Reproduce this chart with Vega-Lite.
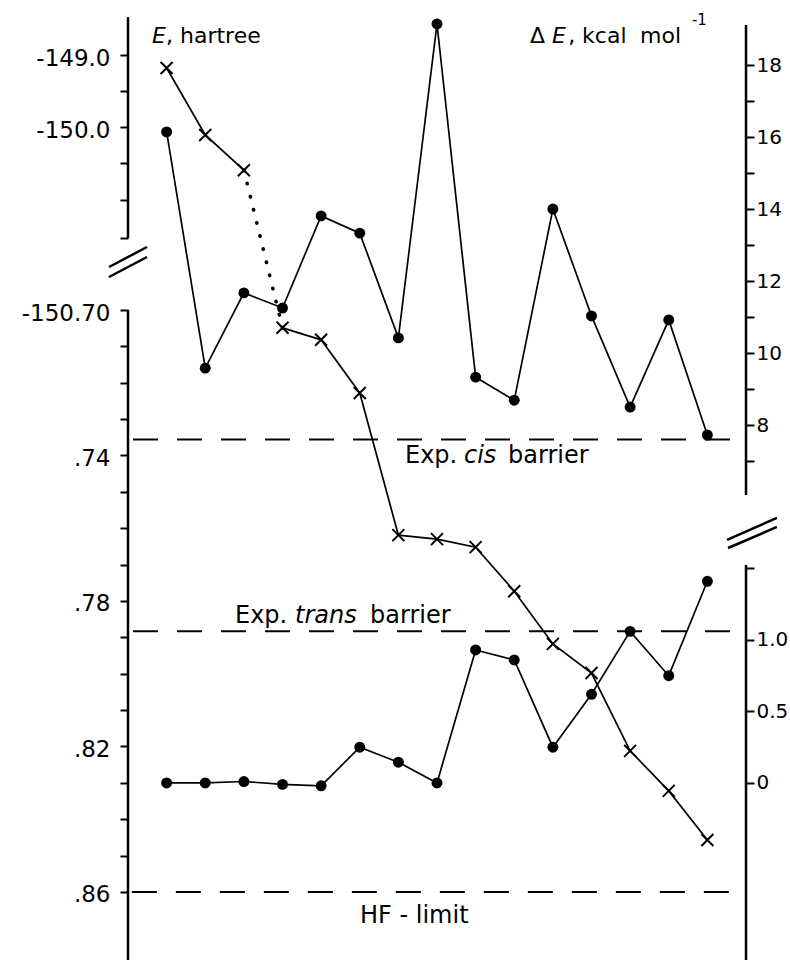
{
  "$schema": "https://vega.github.io/schema/vega-lite/v6.json",
  "width": 618,
  "height": 960,
  "autosize": {"type": "none"},
  "padding": {"left": 128, "top": 0, "right": 44, "bottom": 0},
  "background": "white",
  "config": {"view": {"stroke": null}},
  "datasets": {
    "energy": [
      {"n": 1, "E": -149.18}, {"n": 2, "E": -150.11}, {"n": 3, "E": -150.60},
      {"n": 4, "E": -150.7049}, {"n": 5, "E": -150.7082}, {"n": 6, "E": -150.7228},
      {"n": 7, "E": -150.7619}, {"n": 8, "E": -150.7630}, {"n": 9, "E": -150.7652},
      {"n": 10, "E": -150.7773}, {"n": 11, "E": -150.7918}, {"n": 12, "E": -150.7998},
      {"n": 13, "E": -150.8212}, {"n": 14, "E": -150.8322}, {"n": 15, "E": -150.8457}
    ],
    "barrier": [
      {"n": 1, "dE": 16.14, "barrier": "cis"}, {"n": 2, "dE": 9.58, "barrier": "cis"},
      {"n": 3, "dE": 11.67, "barrier": "cis"}, {"n": 4, "dE": 11.25, "barrier": "cis"},
      {"n": 5, "dE": 13.81, "barrier": "cis"}, {"n": 6, "dE": 13.33, "barrier": "cis"},
      {"n": 7, "dE": 10.42, "barrier": "cis"}, {"n": 8, "dE": 19.14, "barrier": "cis"},
      {"n": 9, "dE": 9.33, "barrier": "cis"}, {"n": 10, "dE": 8.69, "barrier": "cis"},
      {"n": 11, "dE": 14.0, "barrier": "cis"}, {"n": 12, "dE": 11.03, "barrier": "cis"},
      {"n": 13, "dE": 8.5, "barrier": "cis"}, {"n": 14, "dE": 10.92, "barrier": "cis"},
      {"n": 15, "dE": 7.72, "barrier": "cis"},
      {"n": 1, "dE": 0.0, "barrier": "trans"}, {"n": 2, "dE": 0.0, "barrier": "trans"},
      {"n": 3, "dE": 0.01, "barrier": "trans"}, {"n": 4, "dE": -0.01, "barrier": "trans"},
      {"n": 5, "dE": -0.02, "barrier": "trans"}, {"n": 6, "dE": 0.25, "barrier": "trans"},
      {"n": 7, "dE": 0.145, "barrier": "trans"}, {"n": 8, "dE": 0.0, "barrier": "trans"},
      {"n": 9, "dE": 0.93, "barrier": "trans"}, {"n": 10, "dE": 0.86, "barrier": "trans"},
      {"n": 11, "dE": 0.25, "barrier": "trans"}, {"n": 12, "dE": 0.62, "barrier": "trans"},
      {"n": 13, "dE": 1.06, "barrier": "trans"}, {"n": 14, "dE": 0.75, "barrier": "trans"},
      {"n": 15, "dE": 1.41, "barrier": "trans"}
    ]
  },
  "layer": [
    {
      "data": {"name": "energy"},
      "transform": [{"filter": "datum.n <= 3"}],
      "mark": {"type": "line", "color": "black", "strokeWidth": 1.7},
      "encoding": {
        "x": {"field": "n", "type": "quantitative", "scale": {"domain": [0, 16], "nice": false, "zero": false}, "axis": null},
        "y": {
          "field": "E", "type": "quantitative",
          "scale": {"type": "linear", "domain": [-150.8787, -150.70, -150.633, -148.236], "range": [960, 310, 172.6, 0], "nice": false, "zero": false},
          "axis": {
            "orient": "left",
            "values": [-149, -149.5, -150, -150.5, -150.6464, -150.6649, -150.7, -150.71, -150.72, -150.73, -150.74, -150.75, -150.76, -150.77, -150.78, -150.79, -150.8, -150.81, -150.82, -150.83, -150.84, -150.85, -150.86],
            "labelExpr": "datum.value == -149 ? '-149.0' : datum.value == -150 ? '-150.0' : datum.value == -150.7 ? '-150.70' : datum.value == -150.74 ? '.74' : datum.value == -150.78 ? '.78' : datum.value == -150.82 ? '.82' : datum.value == -150.86 ? '.86' : ''",
            "domain": false, "grid": false,
            "tickSize": 8, "tickWidth": 2, "tickColor": "black",
            "labelColor": "black", "labelFont": "DejaVu Sans", "labelFontSize": 23,
            "labelPadding": 10, "labelOffset": 3, "labelOverlap": false, "labelBound": false, "labelFlush": false,
            "title": null
          }
        }
      }
    },
    {
      "data": {"name": "energy"},
      "transform": [{"filter": "datum.n >= 4"}],
      "mark": {"type": "line", "color": "black", "strokeWidth": 1.7},
      "encoding": {
        "x": {"field": "n", "type": "quantitative", "axis": null},
        "y": {"field": "E", "type": "quantitative", "scale": {"type": "linear", "domain": [-150.8787, -150.70, -150.633, -148.236], "range": [960, 310, 172.6, 0], "nice": false, "zero": false}, "axis": null}
      }
    },
    {
      "data": {"name": "energy"},
      "transform": [{"filter": "datum.n == 3 || datum.n == 4"}],
      "mark": {"type": "line", "color": "black", "strokeWidth": 3.5, "strokeDash": [0.5, 13], "strokeCap": "round"},
      "encoding": {
        "x": {"field": "n", "type": "quantitative", "axis": null},
        "y": {"field": "E", "type": "quantitative", "scale": {"type": "linear", "domain": [-150.8787, -150.70, -150.633, -148.236], "range": [960, 310, 172.6, 0], "nice": false, "zero": false}, "axis": null}
      }
    },
    {
      "data": {"name": "energy"},
      "mark": {"type": "point", "shape": "M-1,-1L1,1M-1,1L1,-1", "filled": false, "stroke": "black", "strokeWidth": 2, "size": 144, "opacity": 1},
      "encoding": {
        "x": {"field": "n", "type": "quantitative", "axis": null},
        "y": {"field": "E", "type": "quantitative", "scale": {"type": "linear", "domain": [-150.8787, -150.70, -150.633, -148.236], "range": [960, 310, 172.6, 0], "nice": false, "zero": false}, "axis": null}
      }
    },
    {
      "data": {"values": [{"label": "HF - limit", "E": -150.86, "from": 0.1, "to": 15.77}]},
      "mark": {"type": "rule", "color": "black", "strokeWidth": 2, "strokeDash": [25, 19]},
      "encoding": {
        "x": {"field": "from", "type": "quantitative", "axis": null},
        "x2": {"field": "to"},
        "y": {"field": "E", "type": "quantitative", "scale": {"type": "linear", "domain": [-150.8787, -150.70, -150.633, -148.236], "range": [960, 310, 172.6, 0], "nice": false, "zero": false}, "axis": null}
      }
    },
    {
      "data": {"values": [{"n": 0, "top": -148.472, "bottom": -150.6649}, {"n": 0, "top": -150.70, "bottom": -150.8787}]},
      "mark": {"type": "rule", "color": "black", "strokeWidth": 2.5},
      "encoding": {
        "x": {"field": "n", "type": "quantitative", "axis": null},
        "y": {"field": "top", "type": "quantitative", "scale": {"type": "linear", "domain": [-150.8787, -150.70, -150.633, -148.236], "range": [960, 310, 172.6, 0], "nice": false, "zero": false}, "axis": null},
        "y2": {"field": "bottom"}
      }
    },
    {
      "data": {"values": [{"n": 0, "E": -150.6766}]},
      "mark": {"type": "point", "shape": "M-0.95,0.25L0.95,-0.75M-0.95,0.75L0.95,-0.25", "filled": false, "stroke": "black", "strokeWidth": 2.5, "size": 1600, "opacity": 1, "clip": false},
      "encoding": {
        "x": {"field": "n", "type": "quantitative", "axis": null},
        "y": {"field": "E", "type": "quantitative", "scale": {"type": "linear", "domain": [-150.8787, -150.70, -150.633, -148.236], "range": [960, 310, 172.6, 0], "nice": false, "zero": false}, "axis": null}
      }
    },
    {
      "data": {"values": [
        {"text": ", hartree", "n": 0.984, "E": -148.833},
        {"text": "Δ", "n": 10.408, "E": -148.833},
        {"text": ", kcal", "n": 11.395, "E": -148.833},
        {"text": "mol", "n": 13.256, "E": -148.833}
      ]},
      "mark": {"type": "text", "align": "left", "baseline": "alphabetic", "font": "DejaVu Sans", "fontSize": 22, "color": "black", "clip": false},
      "encoding": {
        "x": {"field": "n", "type": "quantitative", "axis": null},
        "y": {"field": "E", "type": "quantitative", "scale": {"type": "linear", "domain": [-150.8787, -150.70, -150.633, -148.236], "range": [960, 310, 172.6, 0], "nice": false, "zero": false}, "axis": null},
        "text": {"field": "text"}
      }
    },
    {
      "data": {"values": [
        {"text": "E", "n": 0.621, "E": -148.833},
        {"text": "E", "n": 10.977, "E": -148.833}
      ]},
      "mark": {"type": "text", "align": "left", "baseline": "alphabetic", "font": "DejaVu Sans", "fontSize": 22, "fontStyle": "italic", "color": "black", "clip": false},
      "encoding": {
        "x": {"field": "n", "type": "quantitative", "axis": null},
        "y": {"field": "E", "type": "quantitative", "scale": {"type": "linear", "domain": [-150.8787, -150.70, -150.633, -148.236], "range": [960, 310, 172.6, 0], "nice": false, "zero": false}, "axis": null},
        "text": {"field": "text"}
      }
    },
    {
      "data": {"values": [{"text": "-1", "n": 14.6, "E": -148.583}]},
      "mark": {"type": "text", "align": "left", "baseline": "alphabetic", "font": "DejaVu Sans", "fontSize": 15, "color": "black", "clip": false},
      "encoding": {
        "x": {"field": "n", "type": "quantitative", "axis": null},
        "y": {"field": "E", "type": "quantitative", "scale": {"type": "linear", "domain": [-150.8787, -150.70, -150.633, -148.236], "range": [960, 310, 172.6, 0], "nice": false, "zero": false}, "axis": null},
        "text": {"field": "text"}
      }
    },
    {
      "data": {"values": [
        {"text": "Exp.", "n": 7.171, "E": -150.7421},
        {"text": "barrier", "n": 9.838, "E": -150.7421},
        {"text": "Exp.", "n": 2.770, "E": -150.786},
        {"text": "barrier", "n": 6.266, "E": -150.786},
        {"text": "HF - limit", "n": 6.006, "E": -150.8685}
      ]},
      "mark": {"type": "text", "align": "left", "baseline": "alphabetic", "font": "DejaVu Sans", "fontSize": 24, "color": "black"},
      "encoding": {
        "x": {"field": "n", "type": "quantitative", "axis": null},
        "y": {"field": "E", "type": "quantitative", "scale": {"type": "linear", "domain": [-150.8787, -150.70, -150.633, -148.236], "range": [960, 310, 172.6, 0], "nice": false, "zero": false}, "axis": null},
        "text": {"field": "text"}
      }
    },
    {
      "data": {"values": [
        {"text": "cis", "n": 8.699, "E": -150.7421},
        {"text": "trans", "n": 4.324, "E": -150.786}
      ]},
      "mark": {"type": "text", "align": "left", "baseline": "alphabetic", "font": "DejaVu Sans", "fontSize": 24, "fontStyle": "italic", "color": "black"},
      "encoding": {
        "x": {"field": "n", "type": "quantitative", "axis": null},
        "y": {"field": "E", "type": "quantitative", "scale": {"type": "linear", "domain": [-150.8787, -150.70, -150.633, -148.236], "range": [960, 310, 172.6, 0], "nice": false, "zero": false}, "axis": null},
        "text": {"field": "text"}
      }
    },
    {
      "data": {"name": "barrier"},
      "mark": {"type": "line", "color": "black", "strokeWidth": 1.7},
      "encoding": {
        "x": {"field": "n", "type": "quantitative", "axis": null},
        "y": {
          "field": "dE", "type": "quantitative",
          "scale": {"type": "linear", "domain": [-1.238, 1.524, 6.056, 19.806], "range": [960, 565, 495, 0], "nice": false, "zero": false},
          "axis": {
            "orient": "right",
            "values": [7, 8, 9, 10, 11, 12, 13, 14, 15, 16, 17, 18, 0, 0.5, 1, 1.5],
            "labelExpr": "datum.value == 1 ? '1.0' : datum.value == 0.5 ? '0.5' : datum.value == 0 ? '0' : (datum.value >= 8 && datum.value % 2 == 0) ? toString(datum.value) : ''",
            "domain": false, "grid": false,
            "tickSize": 8, "tickWidth": 2, "tickColor": "black",
            "labelColor": "black", "labelFont": "DejaVu Sans", "labelFontSize": 20,
            "labelPadding": 2, "labelOverlap": false, "labelBound": false, "labelFlush": false,
            "title": null
          }
        },
        "detail": {"field": "barrier"}
      }
    },
    {
      "data": {"name": "barrier"},
      "mark": {"type": "circle", "color": "black", "size": 120, "opacity": 1},
      "encoding": {
        "x": {"field": "n", "type": "quantitative", "axis": null},
        "y": {"field": "dE", "type": "quantitative", "scale": {"type": "linear", "domain": [-1.238, 1.524, 6.056, 19.806], "range": [960, 565, 495, 0], "nice": false, "zero": false}, "axis": null}
      }
    },
    {
      "data": {"values": [
        {"label": "Exp. cis barrier", "dE": 7.6, "from": 0.13, "to": 15.9},
        {"label": "Exp. trans barrier", "dE": 1.06, "from": 0.13, "to": 15.6}
      ]},
      "mark": {"type": "rule", "color": "black", "strokeWidth": 2, "strokeDash": [25, 19]},
      "encoding": {
        "x": {"field": "from", "type": "quantitative", "axis": null},
        "x2": {"field": "to"},
        "y": {"field": "dE", "type": "quantitative", "scale": {"type": "linear", "domain": [-1.238, 1.524, 6.056, 19.806], "range": [960, 565, 495, 0], "nice": false, "zero": false}, "axis": null}
      }
    },
    {
      "data": {"values": [{"n": 16, "top": 19.11, "bottom": 6.056}, {"n": 16, "top": 1.524, "bottom": -1.238}]},
      "mark": {"type": "rule", "color": "black", "strokeWidth": 2.5},
      "encoding": {
        "x": {"field": "n", "type": "quantitative", "axis": null},
        "y": {"field": "top", "type": "quantitative", "scale": {"type": "linear", "domain": [-1.238, 1.524, 6.056, 19.806], "range": [960, 565, 495, 0], "nice": false, "zero": false}, "axis": null},
        "y2": {"field": "bottom"}
      }
    },
    {
      "data": {"values": [{"n": 16.155, "dE": 3.6}]},
      "mark": {"type": "point", "shape": "M-0.96,0.27L0.96,-0.58M-0.92,0.58L0.96,-0.23", "filled": false, "stroke": "black", "strokeWidth": 2.5, "size": 2704, "opacity": 1, "clip": false},
      "encoding": {
        "x": {"field": "n", "type": "quantitative", "axis": null},
        "y": {"field": "dE", "type": "quantitative", "scale": {"type": "linear", "domain": [-1.238, 1.524, 6.056, 19.806], "range": [960, 565, 495, 0], "nice": false, "zero": false}, "axis": null}
      }
    }
  ],
  "resolve": {"scale": {"y": "independent"}, "axis": {"y": "independent"}}
}
